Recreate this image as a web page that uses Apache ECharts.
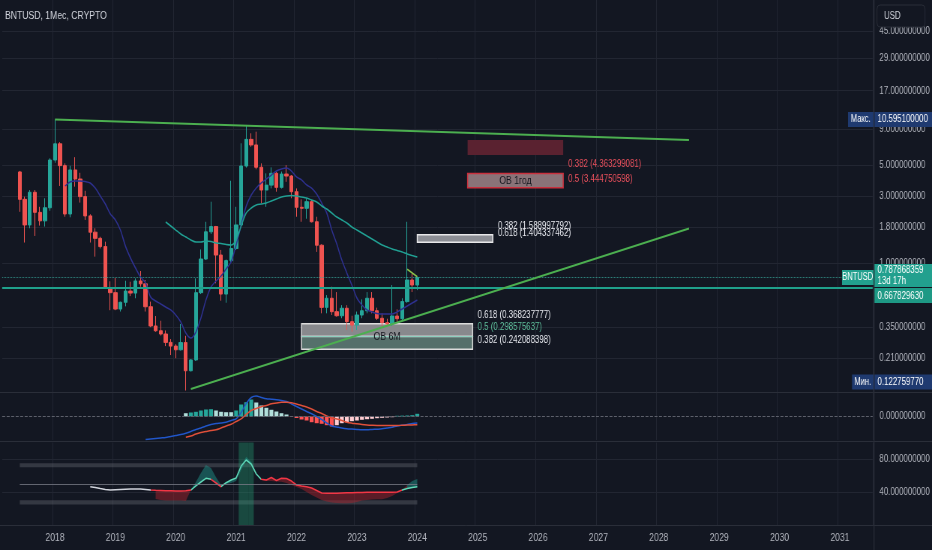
<!DOCTYPE html>
<html>
<head>
<meta charset="utf-8">
<title>BNTUSD, 1Мес, CRYPTO</title>
<script src="https://cdn.jsdelivr.net/npm/echarts@6.0.0/dist/echarts.min.js"></script>
<style>
  html, body { margin:0; padding:0; background:#131722; overflow:hidden; }
  #wrap { width:932px; height:550px; overflow:hidden; position:relative; background:#131722; }
  #chart { width:1243px; height:550px; transform:scaleX(0.749799); transform-origin:0 0; }
</style>
</head>
<body>
<div id="wrap"><div id="chart"></div></div>
<script>
// ================= DATA =================
const candleStart = '2017-06';           // first monthly candle
const openP  = [4.47,2.85,1.87,3.20,2.30,2.00,2.48,5.44,7.10,4.96, 2.24,4.62,3.98,2.98,2.17,1.66,1.50,1.31,0.665,0.614,
                0.469,0.524,0.63,0.61,0.744,0.71,0.487,0.355,0.328,0.311, 0.271,0.255,0.24,0.27,0.17,0.203,0.614,1.068,1.67,1.82,
                1.14,0.60,1.04,1.27,1.87,4.93,7.64,6.97,4.83,3.32, 3.60,4.37,3.47,4.32,4.18,3.23,2.50,2.46,2.74,1.97,
                1.34,0.482,0.56,0.449,0.42,0.475,0.381,0.36,0.425,0.456, 0.56,0.456,0.403,0.375,0.367,0.418,0.40,0.53,0.756,0.696];
const closeP = [2.85,1.87,3.20,2.30,2.00,2.48,5.44,7.10,4.96,2.24, 4.62,3.98,2.98,2.17,1.66,1.50,1.31,0.665,0.614,0.469,
                0.524,0.63,0.61,0.744,0.71,0.487,0.355,0.328,0.311,0.271, 0.255,0.24,0.27,0.17,0.203,0.614,1.068,1.67,1.82,1.14,
                0.60,1.04,1.27,1.87,4.93,7.64,6.97,4.83,3.32,3.60, 4.37,3.47,4.32,4.18,3.23,2.50,2.46,2.74,1.97,1.34,
                0.482,0.56,0.449,0.42,0.475,0.381,0.36,0.425,0.456,0.56, 0.456,0.403,0.375,0.367,0.418,0.40,0.53,0.756,0.696,0.787868359];
const highP  = [4.55,2.98,3.32,3.32,2.52,2.90,5.60,10.5951,7.30,5.15, 4.95,5.70,4.41,3.28,2.23,1.77,1.54,1.42,0.74,0.785,
                0.53,0.747,0.735,0.777,0.877,0.756,0.53,0.418,0.387,0.33, 0.286,0.263,0.367,0.302,0.206,0.777,1.25,1.97,2.74,1.84,
                1.24,1.06,3.87,2.52,7.16,9.68,8.44,8.67,5.15,4.37, 4.82,4.49,4.50,5.00,4.25,3.41,2.85,2.90,2.82,2.14,
                1.36,0.59,0.677,0.62,0.50,0.50,0.42,0.45,0.55,0.62, 0.62,0.48,0.437,0.40,0.696,0.467,0.56,1.97,0.844,0.80];
const lowP   = [2.32,1.40,1.77,1.56,1.85,1.82,2.36,5.20,3.55,2.14, 2.12,3.51,2.70,2.03,1.40,1.11,1.27,0.655,0.46,0.46,
                0.45,0.49,0.58,0.56,0.677,0.45,0.348,0.323,0.303,0.255, 0.22,0.209,0.237,0.12275977,0.168,0.20,0.60,1.05,1.61,0.716,
                0.538,0.52,1.00,1.24,1.85,4.80,6.76,4.67,2.67,2.52, 3.41,3.23,3.40,3.80,2.90,2.14,1.97,2.07,1.95,1.20,
                0.437,0.437,0.425,0.414,0.403,0.332,0.323,0.332,0.403,0.437, 0.437,0.392,0.35,0.355,0.355,0.38,0.39,0.52,0.62,0.64];

const maFastStart = '2018-03';
const maFast = [3.548,3.79,3.85,3.85,3.82,3.73,3.43,3.01,2.64,2.24, 2.03,1.72,1.32,1.086,0.921,0.794,0.72,0.572,0.535,0.51,
                0.485,0.462,0.425,0.379,0.316,0.291,0.321,0.405,0.544,0.674, 0.744,0.808,0.906,1.017,1.345,1.868,2.55,3.06,3.43,3.73,
                3.98,4.25,4.54,4.69,4.77,4.54,4.12,3.92,3.61,3.43, 3.11,2.68,2.28,1.72,1.367,1.05,0.848,0.696,0.562,0.501,
                0.462,0.447,0.436,0.432,0.432,0.432,0.447,0.469,0.493,0.518, 0.544];
const maSlowStart = '2019-11';
const maSlow = [1.963,1.838,1.72,1.611,1.533,1.46,1.413,1.413,1.436,1.424, 1.389,1.378,1.356,1.345,1.46,1.838,2.276,2.471,2.596,2.638,
                2.683,2.773,2.866,2.961,3.01,3.035,3.01,2.961,2.912,2.818, 2.727,2.554,2.43,2.276,2.131,2.029,1.931,1.808,1.72,1.638,
                1.559,1.484,1.413,1.345,1.301,1.259,1.228,1.198,1.16,1.131, 1.104];

const macdStart = '2019-07';
const macdLine = [-23,-22.5,-22,-21.5,-21,-20,-19,-18, -16.7,-15,-13,-11.5,-9.5,-8,-7,-6.5,-5.7,-4,
                  -2.3,4,13,19,20.5,19,17.7,17.3,16.8,16, 15,12.5,10,7.5,5,2.7,0,-3,-6.5,-9.5,
                  -10.5,-11.5,-12.2,-12.6,-13,-13.3,-13.3,-13,-12.7,-12.3, -11.5,-10.7,-9.5,-8.7,-8,-7,-6.5];
const signalStart = '2020-03';
const signalLine = [-20.7,-19.5,-17.5,-16,-15,-14,-13.3,-11.5,-9.5,-7.7, -5,-2.3,2,6,8,9.8,11,12.7,13.5,14.3,
                    14.3,13.8,12.5,11,9.5,7.5,5,3,0.5,-1.5, -2.5,-4,-5.8,-6.7,-7.3,-8,-8.5,-8.8,-9,-9,
                    -9,-9,-9,-8.8,-8.6,-8.4,-8.2];
const histStart = '2020-03';
const histValues = [3.3,4,4.7,6,7,7.3,6,4.7,4.3,4.3, 6,12,14.3,17,14,11,8.7,6.7,5,3.3,
                    2,-0.5,-1.5,-3,-4,-5.7,-6.7,-7.3,-8.7,-10, -8.7,-6.7,-5.7,-4.7,-4,-3.3,-2.7,-2.3,-1.7,-1.3,
                    -1,-0.7,0.7,0.85,1,1.3,2.7];

const rsiStart = '2018-08';
const rsiValues = [46.4,45.5,44.2,43.0,42.4,42.7,43.0,43.3,43.6,43.6,43.6,43.0,42.4,
                   42.0,41.8,41.6,41.5,41.2,41.2,41.6,
                   42.4,47.3,52.1,56.6,55.4,50.9,46.4,51.3,54.5,57.0,
                   71.5,78.8,73.9,61.8,55.4,54.5,57.6,53.9,56.6,56.4,
                   53.3,48.5,47.3,46.4,44.8,41.8,38.8,38.4,38.4,38.5,
                   38.8,39.0,39.2,39.4,39.5,39.6,39.6,39.6,39.6,39.6,
                   39.6,40.0,42.4,44.2,45.5,46.4];
const bandStart = '2019-09';
const bandEdge = [31.5,30.3,29.7,29.7,29.7,29.7,29.1,
                  42.4,52.1,63.0,72.7,69.0,58.0,48.5,49.7,50.9,53.3,66.7,82.8,76.4,63.0,
                  54.5,53.3,53.3,52.7,52.5,50.9,48.5,46.1,43.6,40.0,36.4,33.3,30.3,28.5,27.3,26.7,26.3,26.3,26.7,27.9,
                  29.7,30.3,30.9,31.2,31.2,32.7,35.2,38.8,42.4,
                  48.5,53.3,55.8];
const highlightMonths = ['2021-02','2021-03','2021-04'];

// tick labels
const priceTicks = [0.21, 0.35, 1, 1.8, 3, 5, 9, 17, 29, 45];
const rsiTicks = [40, 80];
const macdTicks = [0];
const rsiBands = [[70, 75], [25, 30]];
const rsiMid = 50;

// levels and drawings
const maxPrice = 10.5951, minPrice = 0.12275977;
const lastPrice = 0.787868359, levelPrice = 0.66782963, countdown = '13d 17h';
const trendDown = [['2018-01', 10.5951], ['2028-07', 7.56]];
const trendUp   = [['2020-04', 0.126], ['2028-07', 1.763]];
const trendShort = [['2023-11', 0.902], ['2024-01', 0.798]];
const boxRed   = [['2024-11', 7.56], ['2026-06', 5.91]];
const boxOB1y  = [['2024-11', 4.363299081], ['2026-06', 3.444750598]];
const boxWhite = [['2024-01', 1.588997792], ['2025-04', 1.404337462]];
const ob6m = { from: '2022-02', to: '2024-12', top: 0.368237777, mid: 0.298575637, bottom: 0.242088398, labelAt: '2023-07' };
const fibLabels = [
  ['2025-01', 0.368237777, '0.618 (0.368237777)', '#e6e8ee'],
  ['2025-01', 0.298575637, '0.5 (0.298575637)',   '#5fbf9c'],
  ['2025-01', 0.242088398, '0.382 (0.242088398)', '#e6e8ee'],
  ['2025-05', 1.588997792, '0.382 (1.588997792)', '#e6e8ee'],
  ['2025-05', 1.404337462, '0.618 (1.404337462)', '#e6e8ee'],
  ['2026-07', 4.363299081, '0.382 (4.363299081)', '#e8505c'],
  ['2026-07', 3.444750598, '0.5 (3.444750598)',   '#e8505c']
];

// axis categories (monthly) 2017-03 .. 2031-07
const axisMonths = [];
for (let y = 2017, m = 3; !(y === 2031 && m === 8); ) {
  axisMonths.push(y + '-' + String(m).padStart(2, '0'));
  m++; if (m > 12) { m = 1; y++; }
}

// ================= LAYOUT / STYLE =================
const W = 1243, F = W / 932;           // virtual width, ref->virtual factor
const GL = 2.88, GW = 1161;            // grid left/width (virtual px)
const FONT = "'Liberation Sans', Arial, sans-serif";
const BG = '#131722', GRIDC = '#222632', TXT = '#b2b5be';
const UP = '#26a69a', DOWN = '#ef5350';

const idx = m => axisMonths.indexOf(m);
function place(start, vals) {
  const a = axisMonths.map(() => '-');
  const s = idx(start);
  vals.forEach((v, k) => { a[s + k] = (v == null ? '-' : v); });
  return a;
}

const cs = idx(candleStart);
const candleData = openP.map((o, k) => [axisMonths[cs + k], o, closeP[k], lowP[k], highP[k]]);

// MACD histogram colours
const histData = axisMonths.map(() => '-');
const hs = idx(histStart);
histValues.forEach((v, k) => {
  const prev = k > 0 ? histValues[k - 1] : null;
  let c;
  if (v >= 0) c = (prev != null && v > prev) ? '#26a69a' : '#b2dfdb';
  else c = (prev != null && v < prev) ? '#ff5252' : '#ffcdd2';
  histData[hs + k] = { value: v, itemStyle: { color: c } };
});

// RSI fill (between RSI and band edge)
const rsiFull = place(rsiStart, rsiValues);
const edgeFull = place(bandStart, bandEdge);
const fillBase = axisMonths.map((_, j) => (edgeFull[j] === '-' || rsiFull[j] === '-') ? '-' : Math.min(rsiFull[j], edgeFull[j]));
const fillDiff = axisMonths.map((_, j) => (edgeFull[j] === '-' || rsiFull[j] === '-') ? '-' : Math.abs(rsiFull[j] - edgeFull[j]));

const highlightData = axisMonths.map(m => highlightMonths.includes(m) ? 100 : '-');

const chart = echarts.init(document.getElementById('chart'), null, { renderer: 'canvas', width: W, height: 550 });

const yearOnly = (i, v) => String(v).endsWith('-01');

const option = {
  backgroundColor: BG,
  animation: false,
  textStyle: { fontFamily: FONT },
  grid: [
    { left: GL, width: GW, top: 0, height: 392 },
    { left: GL, width: GW, top: 393, height: 47 },
    { left: GL, width: GW, top: 442.5, height: 82.5 }
  ],
  xAxis: [0, 1, 2].map(g => ({
    type: 'category', gridIndex: g, data: axisMonths, boundaryGap: true,
    axisLine: { show: false }, axisTick: { show: false },
    axisLabel: g === 2 ? { show: true, interval: yearOnly, formatter: v => v.slice(0, 4), color: TXT, fontSize: 11.5, margin: 7, fontFamily: FONT } : { show: false },
    splitLine: { show: true, interval: yearOnly, lineStyle: { color: GRIDC, width: 1 } }
  })),
  yAxis: [
    { type: 'log', logBase: 10, gridIndex: 0, position: 'right',
      min: Math.pow(10, (263 - 392) / 140), max: Math.pow(10, 263 / 140),
      axisLine: { show: false }, axisTick: { show: false, customValues: priceTicks },
      axisLabel: { customValues: priceTicks, formatter: v => Number(v).toFixed(9), color: TXT, fontSize: 10.5, margin: 9, fontFamily: FONT },
      splitLine: { show: true, lineStyle: { color: GRIDC } } },
    { type: 'value', gridIndex: 1, position: 'right', min: -23.5, max: 23.5,
      axisLine: { show: false }, axisTick: { show: false, customValues: macdTicks },
      axisLabel: { customValues: macdTicks, formatter: v => Number(v).toFixed(9), color: TXT, fontSize: 10.5, margin: 9, fontFamily: FONT },
      splitLine: { show: false } },
    { type: 'value', gridIndex: 2, position: 'right', min: 0, max: 100,
      axisLine: { show: false }, axisTick: { show: false, customValues: rsiTicks },
      axisLabel: { customValues: rsiTicks, formatter: v => Number(v).toFixed(9), color: TXT, fontSize: 10.5, margin: 9, fontFamily: FONT },
      splitLine: { show: true, lineStyle: { color: GRIDC } } }
  ],
  visualMap: [
    { show: false, type: 'piecewise', seriesIndex: 9, dimension: 0,
      pieces: [
        { lt: idx('2019-08'), color: '#d1d4dc' },
        { gte: idx('2019-08'), lt: idx('2020-04'), color: '#f23645' },
        { gte: idx('2020-04'), lt: idx('2020-08'), color: '#5fd9b8' },
        { gte: idx('2020-08'), lt: idx('2020-10'), color: '#f23645' },
        { gte: idx('2020-10'), lt: idx('2021-06'), color: '#5fd9b8' },
        { gte: idx('2021-06'), lt: idx('2023-10'), color: '#f23645' },
        { gte: idx('2023-10'), color: '#5fd9b8' }
      ] },
    { show: false, type: 'piecewise', seriesIndex: 8, dimension: 0,
      pieces: [
        { lt: idx('2020-04'), color: '#a3222c' },
        { gte: idx('2020-04'), lt: idx('2021-06'), color: '#1f8f86' },
        { gte: idx('2021-06'), lt: idx('2023-11'), color: '#a3222c' },
        { gte: idx('2023-11'), color: '#1f8f86' }
      ] }
  ],
  series: [
    { // 0 candles
      type: 'candlestick', xAxisIndex: 0, yAxisIndex: 0, name: 'BNTUSD',
      data: candleData, encode: { x: 0, y: [1, 2, 3, 4] },
      barWidth: '72%',
      itemStyle: { color: UP, color0: DOWN, borderColor: UP, borderColor0: DOWN, borderWidth: 1 },
      markArea: {
        silent: true,
        data: [
          [{ coord: boxRed[0], itemStyle: { color: '#5a2230', borderWidth: 0 } }, { coord: boxRed[1] }],
          [{ coord: boxOB1y[0], itemStyle: { color: '#8a7378', borderColor: '#c9303d', borderWidth: 1.5 },
             label: { show: true, position: 'inside', formatter: 'OB 1год', color: '#15171f', fontSize: 11.5, fontFamily: FONT } }, { coord: boxOB1y[1] }],
          [{ coord: boxWhite[0], itemStyle: { color: '#8c8e95', borderColor: '#e8e8ea', borderWidth: 1.5 } }, { coord: boxWhite[1] }],
          [{ coord: [ob6m.from, ob6m.top], itemStyle: { color: '#88898d', borderColor: '#dcdcdc', borderWidth: 1.5 } }, { coord: [ob6m.to, ob6m.mid] }],
          [{ coord: [ob6m.from, ob6m.mid], itemStyle: { color: '#55706b', borderColor: '#dcdcdc', borderWidth: 1.5 } }, { coord: [ob6m.to, ob6m.bottom] }]
        ]
      },
      markLine: {
        silent: true, symbol: ['none', 'none'], label: { show: false },
        data: [
          { yAxis: levelPrice, lineStyle: { color: '#1fa08b', width: 2, type: 'solid' } },
          { yAxis: lastPrice, lineStyle: { color: '#3aa99c', width: 1, type: 'dotted', opacity: 0.8 } },
          [{ coord: [ob6m.from, ob6m.mid], lineStyle: { color: '#8fd0c0', width: 1, type: 'solid' } }, { coord: [ob6m.to, ob6m.mid] }],
          [{ coord: trendDown[0], lineStyle: { color: '#4caf50', width: 2, type: 'solid' } }, { coord: trendDown[1] }],
          [{ coord: trendUp[0], lineStyle: { color: '#4caf50', width: 2, type: 'solid' } }, { coord: trendUp[1] }],
          [{ coord: trendShort[0], lineStyle: { color: '#8bc34a', width: 1.5, type: 'solid' } }, { coord: trendShort[1] }]
        ]
      },
      markPoint: {
        silent: true, symbol: 'circle', symbolSize: 0,
        data: fibLabels.map(f => ({
          coord: [f[0], f[1]],
          label: { show: true, position: 'right', distance: 0, offset: [0, -9], formatter: f[2], color: f[3], fontSize: 10.5, fontFamily: FONT }
        })).concat([{
          coord: [ob6m.labelAt, ob6m.mid],
          label: { show: true, position: 'inside', formatter: 'OB 6M', color: '#15171f', fontSize: 11.5, fontFamily: FONT }
        }])
      }
    },
    { // 1 fast MA
      type: 'line', xAxisIndex: 0, yAxisIndex: 0, data: place(maFastStart, maFast),
      showSymbol: false, smooth: 0.3, lineStyle: { color: '#2e3190', width: 1.5 }, z: 3
    },
    { // 2 slow MA
      type: 'line', xAxisIndex: 0, yAxisIndex: 0, data: place(maSlowStart, maSlow),
      showSymbol: false, smooth: 0.3, lineStyle: { color: '#21a093', width: 1.5 }, z: 3
    },
    { // 3 MACD histogram
      type: 'bar', xAxisIndex: 1, yAxisIndex: 1, data: histData, barWidth: '78%',
      markLine: { silent: true, symbol: ['none', 'none'], label: { show: false },
        data: [{ yAxis: 0, lineStyle: { color: '#5d606b', type: 'dashed', width: 1 } }] }
    },
    { // 4 MACD line
      type: 'line', xAxisIndex: 1, yAxisIndex: 1, data: place(macdStart, macdLine),
      showSymbol: false, smooth: 0.3, lineStyle: { color: '#2156c9', width: 1.5 }
    },
    { // 5 signal line
      type: 'line', xAxisIndex: 1, yAxisIndex: 1, data: place(signalStart, signalLine),
      showSymbol: false, smooth: 0.3, lineStyle: { color: '#e0503a', width: 1.5 }
    },
    { // 6 highlight column
      type: 'bar', xAxisIndex: 2, yAxisIndex: 2, data: highlightData, barWidth: '100%',
      itemStyle: { color: 'rgba(38,166,120,0.35)' }, z: 1
    },
    { // 7 fill base
      type: 'line', xAxisIndex: 2, yAxisIndex: 2, data: fillBase, stack: 'fill',
      showSymbol: false, lineStyle: { width: 0, opacity: 0 }, z: 2
    },
    { // 8 fill diff
      type: 'line', xAxisIndex: 2, yAxisIndex: 2, data: fillDiff, stack: 'fill',
      showSymbol: false, lineStyle: { width: 0, opacity: 0 }, areaStyle: { opacity: 0.5 }, z: 2
    },
    { // 9 RSI line
      type: 'line', xAxisIndex: 2, yAxisIndex: 2, data: rsiFull,
      showSymbol: false, lineStyle: { width: 1.5 }, z: 4,
      markArea: { silent: true, itemStyle: { color: 'rgba(120,123,134,0.33)' },
        data: rsiBands.map(b => [{ coord: [candleStart, b[1]] }, { coord: [axisMonths[cs + openP.length - 1], b[0]] }]) },
      markLine: { silent: true, symbol: ['none', 'none'], label: { show: false },
        data: [[{ coord: [candleStart, rsiMid], lineStyle: { color: '#787b86', width: 1, type: 'solid', opacity: 0.8 } },
                { coord: [axisMonths[cs + openP.length - 1], rsiMid] }]] }
    }
  ]
};
chart.setOption(option);

// ================= overlays: header, price tags, separators =================
const X = xr => xr * F;
const yPix = v => chart.convertToPixel({ yAxisIndex: 0 }, v);
const gfx = [];
function rect(x0, x1, y0, y1, fill, z, stroke, r) {
  gfx.push({ type: 'rect', z: z || 100, silent: true,
    shape: { x: X(x0), y: y0, width: X(x1) - X(x0), height: y1 - y0, r: r || 0 },
    style: { fill: fill, stroke: stroke || null, lineWidth: stroke ? 1 : 0 } });
}
function text(xr, y, t, fill, size, align) {
  gfx.push({ type: 'text', z: 110, silent: true,
    style: { x: X(xr), y: y, text: t, fill: fill, fontSize: size, fontFamily: FONT, align: align || 'left', verticalAlign: 'middle' } });
}
function hline(y, x0, x1) {
  gfx.push({ type: 'line', z: 90, silent: true, shape: { x1: X(x0), y1: y, x2: X(x1), y2: y }, style: { stroke: '#2a2e39', lineWidth: 1 } });
}
// separators
hline(392.5, 0, 932); hline(441.5, 0, 932); hline(525.5, 0, 932);
gfx.push({ type: 'line', z: 90, silent: true, shape: { x1: X(874), y1: 0, x2: X(874), y2: 550 }, style: { stroke: '#2a2e39', lineWidth: 1.3 } });

// header + USD box
text(5, 16, 'BNTUSD, 1Мес, CRYPTO', '#d1d4dc', 11.5);
rect(877, 925, 5, 27, BG, 105, '#2a2e39', 4);
text(884, 16, 'USD', '#d1d4dc', 10.5);

const TAGB = '#1f3a70', TEAL = '#22a08e';
const paneBottom = 392;
// max
const yMax = yPix(maxPrice);
rect(848, 873.5, yMax - 7.5, yMax + 7.5, TAGB); text(860.7, yMax, 'Макс.', '#ffffff', 10, 'center');
rect(874.5, 932, yMax - 7.5, yMax + 7.5, TAGB); text(877.5, yMax, maxPrice.toFixed(9), '#ffffff', 10.5);
// min (kept inside the pane, as the platform does)
const yMin = Math.min(yPix(minPrice), paneBottom - 10);
rect(852, 873.5, yMin - 7.5, yMin + 7.5, TAGB); text(862.7, yMin, 'Мин.', '#ffffff', 10, 'center');
rect(874.5, 932, yMin - 7.5, yMin + 7.5, TAGB); text(877.5, yMin, minPrice.toFixed(9), '#ffffff', 10.5);
// last price
const yLast = yPix(lastPrice);
rect(842, 873.5, yLast - 7.5, yLast + 7.5, TEAL); text(857.7, yLast, 'BNTUSD', '#ffffff', 10, 'center');
rect(874.5, 932, yLast - 13.5, yLast + 9.5, TEAL);
text(877.5, yLast - 7, lastPrice.toFixed(9), '#ffffff', 10.5);
text(877.5, yLast + 4, countdown, '#ffffff', 10.5);
// level line price
const yLev = yLast + 18.5;
rect(874.5, 932, yLast + 10.5, yLast + 25.5, '#1e9985'); text(877.5, yLev, levelPrice.toFixed(9), '#ffffff', 10.5);

chart.setOption({ graphic: { elements: gfx } });
</script>
</body>
</html>
